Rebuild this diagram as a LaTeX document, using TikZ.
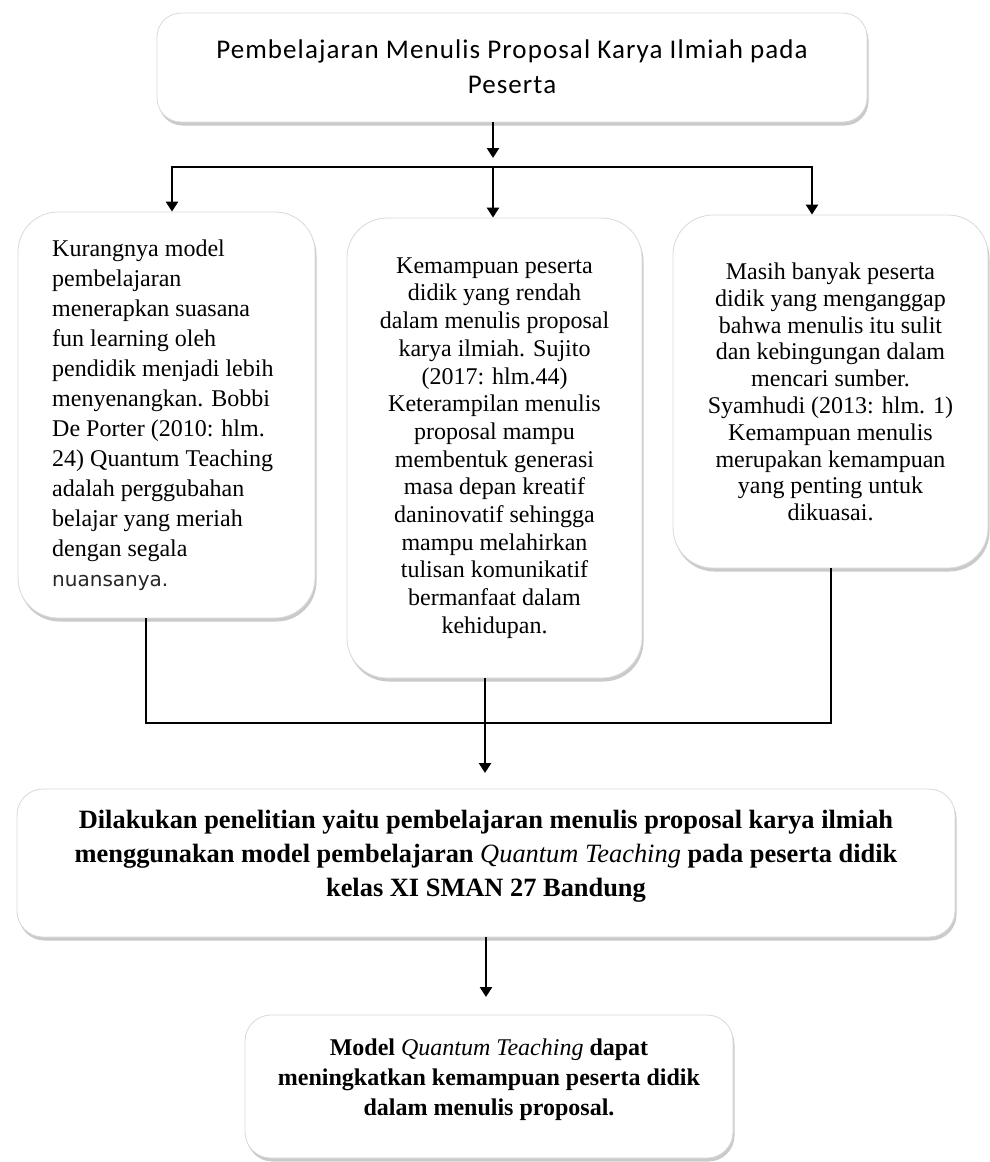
\documentclass[tikz,border=0pt]{standalone}
\usepackage{fontspec}
\setmainfont{Liberation Serif}
\newfontfamily\calib[LetterSpace=4]{Carlito}
\newfontfamily\nsans{DejaVu Sans}
\usetikzlibrary{arrows.meta,shadows}
\begin{document}
\begin{tikzpicture}[x=1pt,y=-1pt,
  box/.style={draw=black!15, line width=0.8pt, fill=white, rounded corners=#1,
    drop shadow={shadow xshift=1.5pt,shadow yshift=-3.5pt,fill=black!60,opacity=.35},
    inner sep=0pt},
  txt/.style={inner sep=0pt, text=black},
  ln/.style={line width=2.8pt, black},
  arr/.style={line width=2.8pt, black, -{Triangle[width=12pt,length=10pt]}}
]
\useasboundingbox (0,0) rectangle (989,1162);

% boxes
\node[box=24pt, minimum width=710pt, minimum height=109pt] (top) at (512,67.5) {};
\node[box=40pt, minimum width=297pt, minimum height=406pt] (left) at (166.5,415) {};
\node[box=40pt, minimum width=295pt, minimum height=460pt] (mid) at (494.5,448) {};
\node[box=40pt, minimum width=315pt, minimum height=353pt] (right) at (830.5,391.5) {};
\node[box=26pt, minimum width=938pt, minimum height=148pt] (b1) at (486,863) {};
\node[box=26pt, minimum width=488pt, minimum height=143pt] (b2) at (489,1086.5) {};

% texts
\node[txt, align=center, font={\calib\fontsize{27}{35}\selectfont}] (toptext) at (512,67)
  {Pembelajaran Menulis Proposal Karya Ilmiah pada\\Peserta};

\node[txt, align=left, anchor=west, font={\fontsize{24}{30}\selectfont}] (lefttext) at (52,415)
  {Kurangnya model\\
   pembelajaran\\
   menerapkan suasana\\
   fun learning oleh\\
   pendidik menjadi lebih\\
   menyenangkan. Bobbi\\
   De Porter (2010: hlm.\\
   24) Quantum Teaching\\
   adalah perggubahan\\
   belajar yang meriah\\
   dengan segala\\
   {\nsans\fontsize{20}{30}\selectfont\color{black!85}nuansanya.}};

\node[txt, align=center, font={\fontsize{24}{27.7}\selectfont}] (midtext) at (494.5,448)
  {Kemampuan peserta\\
   didik yang rendah\\
   dalam menulis proposal\\
   karya ilmiah. Sujito\\
   (2017: hlm.44)\\
   Keterampilan menulis\\
   proposal mampu\\
   membentuk generasi\\
   masa depan kreatif\\
   daninovatif sehingga\\
   mampu melahirkan\\
   tulisan komunikatif\\
   bermanfaat dalam\\
   kehidupan.};

\node[txt, align=center, font={\fontsize{24}{26.8}\selectfont}] (righttext) at (830.5,392)
  {Masih banyak peserta\\
   didik yang menganggap\\
   bahwa menulis itu sulit\\
   dan kebingungan dalam\\
   mencari sumber.\\
   Syamhudi (2013: hlm. 1)\\
   Kemampuan menulis\\
   merupakan kemampuan\\
   yang penting untuk\\
   dikuasai.};

\node[txt, align=center, font={\bfseries\fontsize{26.4}{34}\selectfont}] (b1text) at (486,856)
  {Dilakukan penelitian yaitu pembelajaran menulis proposal karya ilmiah\\
   menggunakan model pembelajaran {\mdseries\itshape Quantum Teaching} pada peserta didik\\
   kelas XI SMAN 27 Bandung};

\node[txt, align=center, font={\bfseries\fontsize{24}{30}\selectfont}] (b2text) at (489,1080)
  {Model {\mdseries\itshape Quantum Teaching} dapat\\
   meningkatkan kemampuan peserta didik\\
   dalam menulis proposal.};

% connectors
\coordinate (jt) at (493,167);
\coordinate (jl) at (172,167);
\coordinate (jr) at (812,167);
\draw[arr] (top.south -| jt) -- ([yshift=9pt]jt);
\draw[arr] (jt) -| (left.north -| jl);
\draw[arr] (jt) -| (right.north -| jr);
\draw[arr] (jt) -- (mid.north -| jt);

\coordinate (bl) at (146,723);
\coordinate (bm) at (485,723);
\coordinate (br) at (831,723);
\coordinate (b1in) at (485,773);
\coordinate (b2in) at (486,997);
\draw[ln] (left.south -| bl) |- (bm);
\draw[ln] (right.south -| br) |- (bm);
\draw[arr] (mid.south -| bm) -- (b1in);
\draw[arr] (b1.south -| b2in) -- (b2in);
\end{tikzpicture}
\end{document}
